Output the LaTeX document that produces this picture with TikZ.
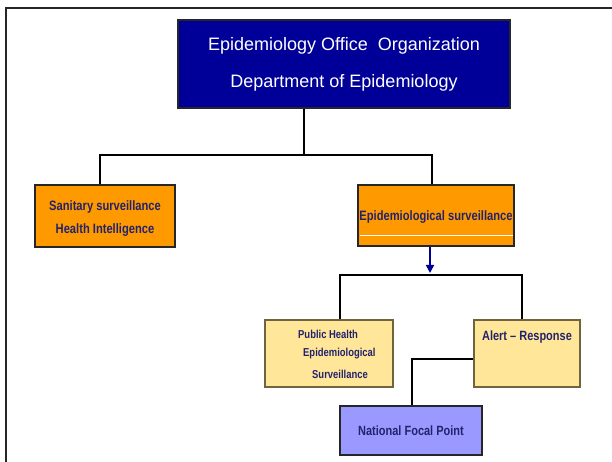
\documentclass[tikz,border=0pt]{standalone}
\usepackage{fontspec}
\setmainfont{Liberation Sans}
\newfontfamily\narrow[FakeStretch=0.82]{Liberation Sans}
\usetikzlibrary{arrows.meta}
\definecolor{headblue}{HTML}{000099}
\definecolor{orangebox}{HTML}{FF9900}
\definecolor{yellowbox}{HTML}{FFE699}
\definecolor{violetbox}{HTML}{9999FF}
\definecolor{navytext}{HTML}{23236B}
\definecolor{yellowedge}{HTML}{6E6540}
\tikzset{
  box/.style={draw=black!85, line width=1.2pt, minimum width=#1, inner sep=0pt},
  headbox/.style={draw=black!85, line width=1.4pt, fill=headblue, text=white,
    font=\fontsize{18}{21}\selectfont, align=center},
  orange/.style={fill=orangebox, font=\narrow\bfseries\fontsize{13.6}{23}\selectfont,
    text=navytext, align=center},
  yellow/.style={fill=yellowbox, draw=yellowedge},
  small/.style={font=\narrow\bfseries\fontsize{11.5}{20}\selectfont, text=navytext, inner sep=0pt},
  medium/.style={font=\narrow\bfseries\fontsize{13.4}{16}\selectfont, text=navytext, inner sep=0pt},
  link/.style={line width=1.6pt, black},
  frame/.style={line width=1.8pt, black!85}
}
\begin{document}
\begin{tikzpicture}[x=1pt, y=1pt]
  \useasboundingbox (0,0) rectangle (612,462);
  % page frame
  \coordinate (fa) at (6,0);
  \coordinate (fb) at (6,454);
  \coordinate (fc) at (612,454);
  \draw[frame] (fa) -- (fb) -- (fc);

  % head office
  \node[box=332pt, headbox, minimum height=88pt] (head) at (344,398)
    {Epidemiology Office\ \ Organization\\[16pt]Department of Epidemiology};

  % first level
  \node[box=140pt, orange, minimum height=62pt] (sanit) at (105,246) {};
  \node[orange, fill=none, inner sep=0pt] (sanittext) at (105,243.5)
    {Sanitary surveillance\\Health Intelligence};
  \node[box=156pt, orange, minimum height=61pt] (epi) at (436,246.5) {};
  \node[medium, font=\narrow\bfseries\fontsize{13.6}{16}\selectfont] (epitext) at (436,245) {Epidemiological surveillance};
  \coordinate (wl) at (359.5,226);
  \coordinate (wr) at (513,226);
  \draw[white, line width=1pt] (wl) -- (wr);

  \coordinate (bus1) at (304,307);
  \coordinate (xl) at (100,0);
  \coordinate (xr) at (432,0);
  \draw[link] (head.south -| bus1) -- (bus1);
  \draw[link] (sanit.north -| xl) |- (bus1) -| (epi.north -| xr);

  % second level
  \coordinate (arr) at (430,0);
  \coordinate (arrend) at (430,189);
  \draw[headblue, line width=1.6pt, -{Triangle[length=8pt, width=8pt]}] (epi.south -| arr) -- (arrend);

  \node[box=128pt, yellow, minimum height=67pt] (ph) at (329,108.5) {};
  \node[box=106pt, yellow, minimum height=67pt] (alert) at (527,108.5) {};
  \node[small, anchor=west] (ph1) at (298,128) {Public Health};
  \node[small, anchor=west] (ph2) at (303,108) {Epidemiological};
  \node[small, anchor=west] (ph3) at (312,88) {Surveillance};
  \node[medium] (alerttext) at (527,125) {Alert – Response};

  \coordinate (bus2) at (431,187);
  \coordinate (xa) at (340,0);
  \coordinate (xb) at (522,0);
  \draw[link] (ph.north -| xa) |- (bus2) -| (alert.north -| xb);

  % focal point
  \node[box=142pt, fill=violetbox, minimum height=49pt, medium, inner sep=0pt] (nfp) at (411,31.5)
    {National Focal Point};
  \coordinate (elbow) at (412,103);
  \draw[link] (alert.west |- elbow) -- (elbow) -- (nfp.north -| elbow);
\end{tikzpicture}
\end{document}
